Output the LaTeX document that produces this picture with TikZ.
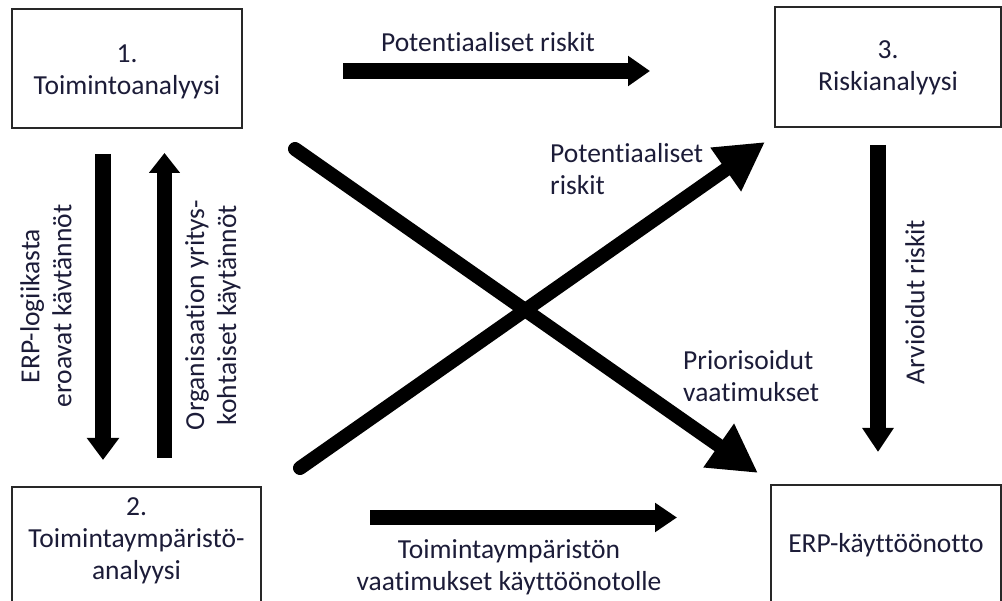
\documentclass[tikz,border=0pt]{standalone}
\usepackage{fontspec}
\setmainfont{Carlito}[Ligatures=NoCommon]
\usetikzlibrary{arrows.meta}
\definecolor{ink}{RGB}{28,28,56}
\definecolor{frame}{RGB}{40,40,40}
\begin{document}
\begin{tikzpicture}[x=1pt,y=-1pt,
  txt/.style={text=ink,font=\fontsize{27.5}{32}\selectfont,align=center,inner sep=0pt},
  box/.style={draw=frame,line width=1.3pt,fill=white,inner sep=0pt},
  blockarrow/.style={line width=16pt,-{Triangle[width=31pt,length=22pt]}},
  crossarrow/.style={line width=14pt,line cap=round,-{Triangle[width=50pt,length=48pt]}}]
\useasboundingbox (0,0) rectangle (1002,601);
\clip (0,0) rectangle (1002,601);

% boxes
\node[box,minimum width=230pt,minimum height=119pt] (b1) at (127,68.5) {};
\node[txt] (t1) at (127,72) {1.\\Toimintoanalyysi};
\node[box,minimum width=226pt,minimum height=120pt] (b3) at (888,67) {};
\node[txt] (t3) at (888,68) {3.\\Riskianalyysi};
\node[box,minimum width=249pt,minimum height=128pt] (b2) at (136.5,551) {};
\node[txt] (t2) at (136.5,541) {2.\\Toimintaympäristö-\\analyysi};
\node[box,txt,minimum width=230pt,minimum height=120pt] (b4) at (886,545) {ERP-käyttöönotto};

% arrow end points
\coordinate (downS) at (103,154);   \coordinate (downE) at (103,460);
\coordinate (upS) at (164.5,458);   \coordinate (upE) at (164.5,153);
\coordinate (topS) at (343,71);     \coordinate (topE) at (650,71);
\coordinate (botS) at (370,517.5);  \coordinate (botE) at (677,517.5);
\coordinate (rightS) at (878,145);  \coordinate (rightE) at (878,452);
\coordinate (diagAS) at (295,149);  \coordinate (diagAE) at (758,473);
\coordinate (diagBS) at (300,468);  \coordinate (diagBE) at (765,142);

% block arrows
\draw[blockarrow] (downS) -- (downE);
\draw[line width=15pt,-{Triangle[width=30pt,length=20pt]}] (upS) -- (upE);
\draw[blockarrow,-{Triangle[width=29pt,length=22pt]}] (topS) -- (topE);
\draw[line width=15pt,-{Triangle[width=28pt,length=22pt]}] (botS) -- (botE);
\draw[blockarrow,-{Triangle[width=30pt,length=24pt]}] (rightS) -- (rightE);
\draw[crossarrow] (diagAS) -- (diagAE);
\draw[crossarrow] (diagBS) -- (diagBE);

% labels
\node[txt] (lblTop) at (488,42) {Potentiaaliset riskit};
\node[txt,align=left,anchor=west] (lblRisk) at (550,169) {Potentiaaliset\\riskit};
\node[txt,align=left,anchor=west] (lblPrio) at (683,376) {Priorisoidut\\vaatimukset};
\node[txt] (lblBot) at (509,567) {Toimintaympäristön\\vaatimukset käyttöönotolle};
\node[txt,rotate=90] (lblErp) at (46,306) {ERP-logiikasta\\eroavat kävtännöt};
\node[txt,rotate=90] (lblOrg) at (213,315) {Organisaation yritys-\\kohtaiset käytännöt};
\node[txt,rotate=90] (lblArv) at (915,302) {Arvioidut riskit};
\end{tikzpicture}
\end{document}
